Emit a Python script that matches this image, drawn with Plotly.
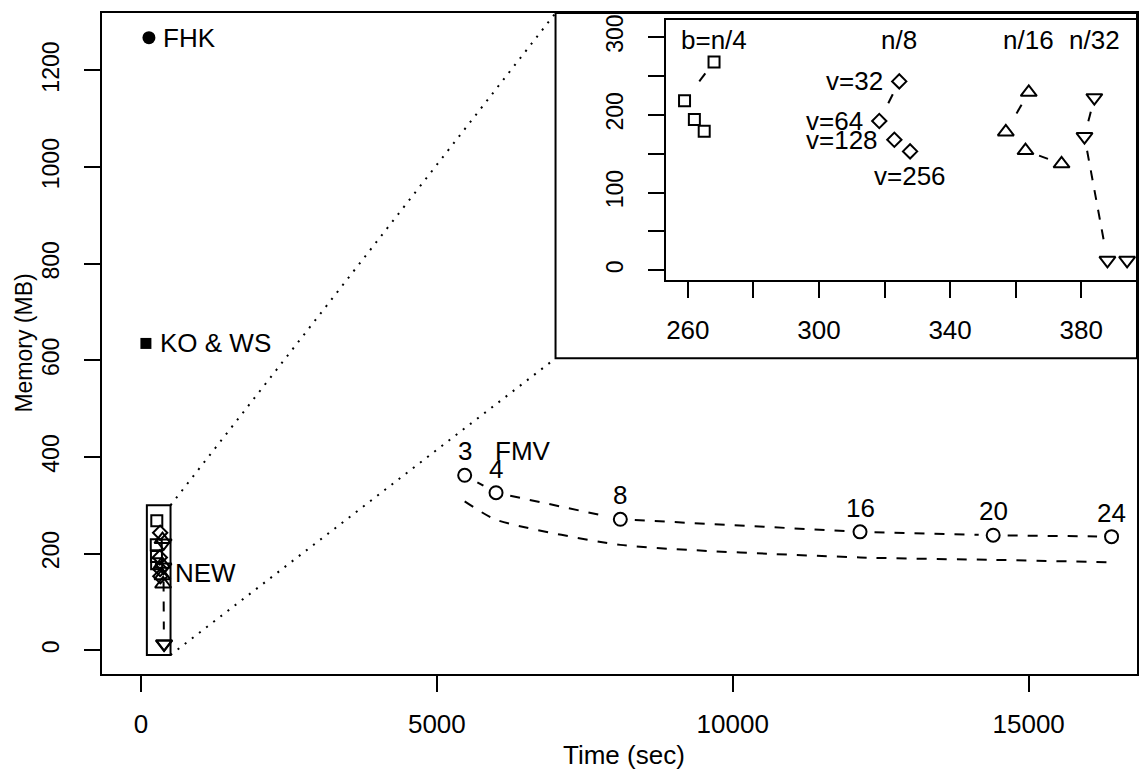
import math
import plotly.graph_objects as go

# ---------------- data ----------------
fhk_time = [135]
fhk_mem = [1268]
kows_time = [84]
kows_mem = [635]

fmv_threads = ["3", "4", "8", "16", "20", "24"]
fmv_time = [5470, 6000, 8100, 12150, 14400, 16400]
fmv_mem = [362, 326, 271, 245, 238, 235]
fmv_lower_mem = [308, 270, 218, 192, 187, 182]

new_groups = ["b=n/4", "n/8", "n/16", "n/32"]
v_labels = ["v=32", "v=64", "v=128", "v=256"]
new_b4_time = [268, 259, 262, 265]
new_b4_mem = [268, 218, 194, 179]
new_b8_time = [324.5, 318.4, 323, 327.8]
new_b8_mem = [243, 192, 168, 153]
new_b16_time = [364, 357, 363, 374]
new_b16_mem = [229, 178, 154, 137]
new_b32_time = [384, 381, 388, 394]
new_b32_mem = [222, 172, 13, 13]

zoom_box_time = [100, 500]
zoom_box_mem = [-10, 300]

x_ticks = [0, 5000, 10000, 15000]
x_labels = ["0", "5000", "10000", "15000"]
y_ticks = [0, 200, 400, 600, 800, 1000, 1200]
y_labels = ["0", "200", "400", "600", "800", "1000", "1200"]
ix_ticks = [260, 280, 300, 320, 340, 360, 380]
ix_labels = ["260", "", "300", "", "340", "", "380"]
iy_ticks = [0, 50, 100, 150, 200, 250, 300]
iy_labels = ["0", "", "100", "", "200", "", "300"]

# ---------------- layout geometry ----------------
W, H = 1147, 772
ML, MR, MT, MB = 102, 9, 8, 98
PW, PH = W - ML - MR, H - MT - MB
x_range = [-658, 16830]
y_range = [-49.3, 1319]
ix_range = [253.4, 396.7]
iy_range = [-12, 322]
inset_dom_x = [0.5451, 0.9990]
inset_dom_y = [0.5965, 0.9895]
inset_outer = dict(x0=0.4382, x1=1.0, y0=0.4775, y1=1.0)

FONT = "Liberation Sans, Arial, Helvetica, sans-serif"
FS = 26      # horizontal text
FSV = 23     # rotated (vertical) text
BLACK = "black"
DASH = "10px,10px"
GAP = 14.5

main_px = (PW / (x_range[1] - x_range[0]), PH / (y_range[1] - y_range[0]))
inset_px = (PW * (inset_dom_x[1] - inset_dom_x[0]) / (ix_range[1] - ix_range[0]),
            PH * (inset_dom_y[1] - inset_dom_y[0]) / (iy_range[1] - iy_range[0]))


def gapped(xs, ys, scale, gap=GAP):
    """R type='b' style: segments shortened by `gap` pixels at each end."""
    sx, sy = [], []
    for i in range(len(xs) - 1):
        dx = (xs[i + 1] - xs[i]) * scale[0]
        dy = (ys[i + 1] - ys[i]) * scale[1]
        L = math.hypot(dx, dy)
        if L <= 2 * gap:
            continue
        f = gap / L
        ddx = xs[i + 1] - xs[i]
        ddy = ys[i + 1] - ys[i]
        sx += [xs[i] + ddx * f, xs[i + 1] - ddx * f, None]
        sy += [ys[i] + ddy * f, ys[i + 1] - ddy * f, None]
    return sx, sy


fig = go.Figure()

groups = [
    (new_b4_time, new_b4_mem, "square-open", 11),
    (new_b8_time, new_b8_mem, "diamond-open", 11),
    (new_b16_time, new_b16_mem, "triangle-up-open", 14),
    (new_b32_time, new_b32_mem, "triangle-down-open", 14),
]

for axx, axy, scale in [("x", "y", main_px), ("x2", "y2", inset_px)]:
    for gx, gy, sym, sz in groups:
        lx, ly = gapped(gx, gy, scale)
        fig.add_trace(go.Scatter(x=lx, y=ly, mode="lines", xaxis=axx, yaxis=axy,
                                 line=dict(color=BLACK, width=2, dash=DASH),
                                 hoverinfo="skip", showlegend=False))
        fig.add_trace(go.Scatter(x=gx, y=gy, mode="markers", xaxis=axx, yaxis=axy,
                                 marker=dict(symbol=sym, size=sz, color=BLACK,
                                             line=dict(color=BLACK, width=2)),
                                 showlegend=False))

# FMV
lx, ly = gapped(fmv_time, fmv_mem, main_px)
fig.add_trace(go.Scatter(x=lx, y=ly, mode="lines", line=dict(color=BLACK, width=2, dash=DASH),
                         hoverinfo="skip", showlegend=False))
fig.add_trace(go.Scatter(x=fmv_time, y=fmv_mem, mode="markers",
                         marker=dict(symbol="circle-open", size=13, color=BLACK,
                                     line=dict(color=BLACK, width=2)),
                         showlegend=False))
fig.add_trace(go.Scatter(x=fmv_time, y=fmv_lower_mem, mode="lines",
                         line=dict(color=BLACK, width=2, dash=DASH, shape="spline", smoothing=0.6),
                         showlegend=False))

# FHK / KO & WS
fig.add_trace(go.Scatter(x=fhk_time, y=fhk_mem, mode="markers",
                         marker=dict(symbol="circle", size=13, color=BLACK), showlegend=False))
fig.add_trace(go.Scatter(x=kows_time, y=kows_mem, mode="markers",
                         marker=dict(symbol="square", size=11, color=BLACK), showlegend=False))

ann = []
tf = dict(family=FONT, size=FS, color=BLACK)
tfv = dict(family=FONT, size=FSV, color=BLACK)
ann.append(dict(x=fhk_time[0], y=fhk_mem[0], text="FHK", xanchor="left", xshift=12, showarrow=False, font=tf))
ann.append(dict(x=kows_time[0], y=kows_mem[0], text="KO &amp; WS", xanchor="left", xshift=12, showarrow=False, font=tf))
ann.append(dict(x=zoom_box_time[1], y=160, text="NEW", xanchor="left", xshift=2, showarrow=False, font=tf))
for t, xv, yv in zip(fmv_threads, fmv_time, fmv_mem):
    ann.append(dict(x=xv, y=yv, text=t, yshift=24, showarrow=False, font=tf))
ann.append(dict(x=fmv_time[0], y=fmv_mem[0], text="FMV", xshift=58, yshift=24, showarrow=False, font=tf))

# inset labels
for g, gx in zip(new_groups, [new_b4_time, new_b8_time, new_b16_time, new_b32_time]):
    ann.append(dict(x=gx[0], y=296, xref="x2", yref="y2", text=g, showarrow=False, font=tf))
for i, lab in enumerate(v_labels):
    if i < 3:
        ann.append(dict(x=new_b8_time[i], y=new_b8_mem[i], xref="x2", yref="y2", text=lab,
                        xanchor="right", xshift=-14, showarrow=False, font=tf))
    else:
        ann.append(dict(x=new_b8_time[i], y=new_b8_mem[i], xref="x2", yref="y2", text=lab,
                        yshift=-25, showarrow=False, font=tf))

# axis titles
ann.append(dict(x=0.5 + 5 / PW, y=-(756 - (H - MB)) / PH, xref="paper", yref="paper", text="Time (sec)",
                showarrow=False, font=tf, xanchor="center", yanchor="middle"))
ann.append(dict(x=-(ML - 23) / PW, y=0.5, xref="paper", yref="paper", text="Memory (MB)", textangle=-90,
                showarrow=False, font=tfv, xanchor="center", yanchor="middle"))

# shapes
def paper_to_data(px, py):
    return (x_range[0] + px * (x_range[1] - x_range[0]), y_range[0] + py * (y_range[1] - y_range[0]))

tl = paper_to_data(inset_outer["x0"], inset_outer["y1"])
bl = paper_to_data(inset_outer["x0"], inset_outer["y0"])
shapes = [
    dict(type="rect", xref="x", yref="y", x0=zoom_box_time[0], x1=zoom_box_time[1],
         y0=zoom_box_mem[0], y1=zoom_box_mem[1], line=dict(color=BLACK, width=2)),
    dict(type="line", xref="x", yref="y", x0=zoom_box_time[1], y0=zoom_box_mem[1], x1=tl[0], y1=tl[1],
         line=dict(color=BLACK, width=2, dash="2px,7px")),
    dict(type="line", xref="x", yref="y", x0=zoom_box_time[1], y0=zoom_box_mem[0], x1=bl[0], y1=bl[1],
         line=dict(color=BLACK, width=2, dash="2px,7px")),
    dict(type="rect", xref="paper", yref="paper", line=dict(color=BLACK, width=2), **inset_outer),
]

axis_common = dict(showgrid=False, zeroline=False, showline=True, mirror=True, linecolor=BLACK,
                   linewidth=2, ticks="outside", ticklen=16, tickwidth=2, tickcolor=BLACK)

fig.update_layout(
    width=W, height=H, margin=dict(l=ML, r=MR, t=MT, b=MB),
    paper_bgcolor="white", plot_bgcolor="rgba(0,0,0,0)",
    font=dict(family=FONT, size=FS, color=BLACK),
    xaxis=dict(range=x_range, tickvals=x_ticks, ticktext=x_labels, ticklabelstandoff=10,
               tickfont=tf, **axis_common),
    yaxis=dict(range=y_range, tickvals=y_ticks, ticktext=y_labels, tickangle=-90,
               ticklabelstandoff=16, tickfont=tfv, **axis_common),
    xaxis2=dict(range=ix_range, domain=inset_dom_x, anchor="y2", tickvals=ix_ticks,
                ticktext=ix_labels, ticklabelstandoff=10, tickfont=tf, **axis_common),
    yaxis2=dict(range=iy_range, domain=inset_dom_y, anchor="x2", tickvals=iy_ticks,
                ticktext=iy_labels, tickangle=-90, ticklabelstandoff=16, tickfont=tfv, **axis_common),
    annotations=ann, shapes=shapes, showlegend=False,
)

fig.write_html("out.html", config={"displayModeBar": False},
               post_script="document.body.style.margin='0';document.body.style.overflow='hidden';")
